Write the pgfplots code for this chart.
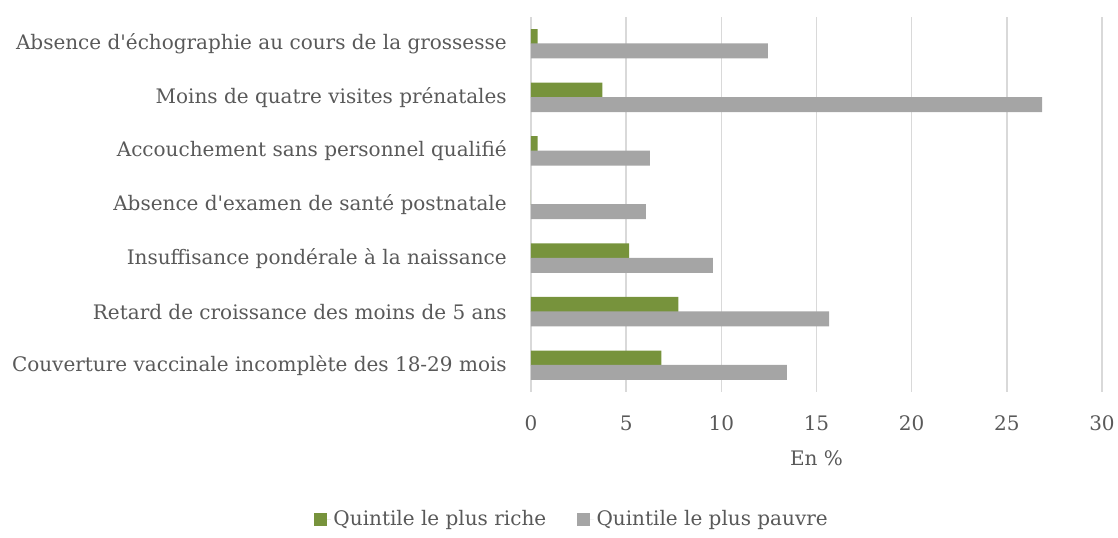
\documentclass[border=0pt]{standalone}
\usepackage{fontspec}
\setmainfont{DejaVu Serif}
\usepackage{pgfplots}
\pgfplotsset{compat=1.18}
\definecolor{grn}{HTML}{77933C}
\definecolor{gry}{HTML}{A5A5A5}
\definecolor{grd}{HTML}{D9D9D9}
\definecolor{txt}{HTML}{595959}
\begin{document}
\begin{tikzpicture}
\useasboundingbox (0pt,0pt) rectangle (838.5pt,402.75pt);
\begin{axis}[
  at={(398.25pt,108.75pt)}, anchor=south west,
  scale only axis, width=428.25pt, height=281.25pt,
  xbar, bar width=11.25pt,
  xmin=0, xmax=30, ymin=-0.5, ymax=6.5, y dir=reverse,
  xtick={0,5,...,30},
  ytick={0,...,6},
  yticklabels={Absence d\textquotesingle échographie au cours de la grossesse,
    Moins de quatre visites prénatales,
    Accouchement sans personnel qualifié,
    Absence d\textquotesingle examen de santé postnatale,
    Insuffisance pondérale à la naissance,
    Retard de croissance des moins de 5 ans,
    Couverture vaccinale incomplète des 18-29 mois},
  axis line style={draw=none},
  major tick length=0pt,
  xmajorgrids, grid style={grd, line width=1.1pt},
  /pgf/number format/assume math mode=true,
  tick label style={text=txt, font=\fontsize{15}{18}\selectfont, inner sep=0pt},
  yticklabel style={anchor=east, xshift=-18pt},
  xticklabel style={anchor=north, yshift=-17.5pt},
  xlabel={En \%},
  xlabel style={at={(axis description cs:0.5,0)}, anchor=center, yshift=-49.5pt, text=txt, font=\fontsize{15}{18}\selectfont},
  legend columns=2,
  legend style={at={(0.072,-0.339)}, anchor=center, draw=none, text=txt, font=\fontsize{15}{18}\selectfont,
    /tikz/every even column/.append style={column sep=21pt}, inner sep=0pt},
  legend image code/.code={\fill[#1] (0pt,-4.9pt) rectangle (9.75pt,4.9pt); \path (0pt,0pt) -- (12.75pt,0pt);},
]
\addplot[fill=grn, draw=none, bar shift=5.4pt] coordinates {(0.35,0) (3.75,1) (0.35,2) (0,3) (5.15,4) (7.74,5) (6.85,6)};
\addlegendentry{Quintile le plus riche}
\addplot[fill=gry, draw=none, bar shift=-5.4pt] coordinates {(12.45,0) (26.85,1) (6.24,2) (6.04,3) (9.55,4) (15.66,5) (13.45,6)};
\addlegendentry{Quintile le plus pauvre}
\end{axis}
\end{tikzpicture}
\end{document}
